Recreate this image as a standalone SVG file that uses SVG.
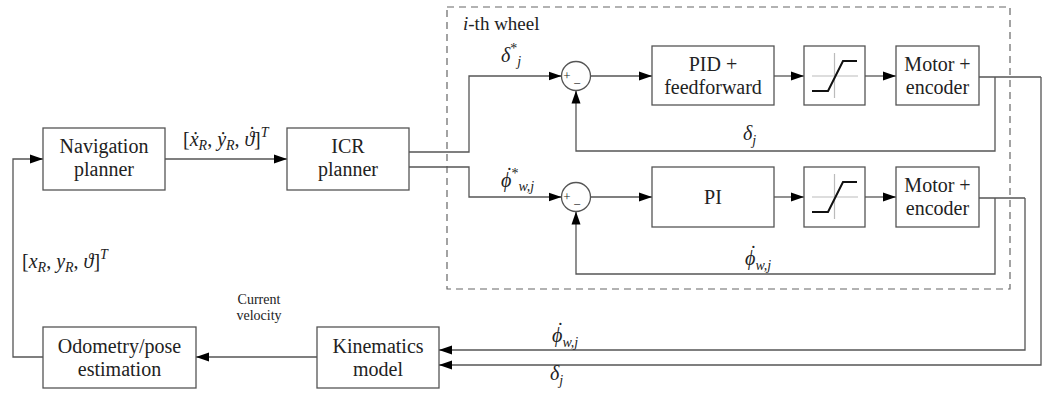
<svg xmlns="http://www.w3.org/2000/svg" width="1042" height="394" viewBox="0 0 1042 394">
  <style>
    .box { fill: #fff; stroke: #555; stroke-width: 1.3; }
    .wire { fill: none; stroke: #555; stroke-width: 1.3; }
    .arr { marker-end: url(#head); }
    .lbl { font-family: "Liberation Serif", "Times New Roman", serif; font-size: 20px; fill: #222; text-anchor: middle; }
    .math { font-family: "Liberation Serif", "Times New Roman", serif; font-size: 20px; fill: #222; font-style: italic; }
    .sub { font-size: 14px; }
    .up { font-style: normal; }
    .small { font-family: "Liberation Serif", "Times New Roman", serif; font-size: 14px; fill: #222; text-anchor: middle; }
    .sign { font-family: "Liberation Serif", serif; font-size: 13px; fill: #222; text-anchor: middle; }
    .grid { stroke: #bbb; stroke-width: 1.2; fill: none; }
    .sat { stroke: #111; stroke-width: 2; fill: none; }
    .frame { fill: none; stroke: #666; stroke-width: 1.2; stroke-dasharray: 7 5; }
  </style>
  <defs>
    <marker id="head" markerUnits="userSpaceOnUse" markerWidth="14" markerHeight="10" refX="13" refY="5" orient="auto">
      <path d="M0,0.5 L13,5 L0,9.5 Z" fill="#000"/>
    </marker>
  </defs>

  <!-- wheel subsystem frame -->
  <g id="wheel-frame">
    <rect class="frame" x="447" y="7" width="563" height="282"/>
    <text class="math" x="463" y="30" style="font-size:19px">i<tspan class="up">-th wheel</tspan></text>
  </g>

  <!-- connectors -->
  <g id="connectors">
    <path class="wire arr" d="M43,357 H13 V159 H43"/>
    <path class="wire arr" d="M165,159 H287"/>
    <path class="wire arr" d="M409,152 H469 V76 H561.5"/>
    <path class="wire arr" d="M409,167 H469 V197 H561.5"/>
    <path class="wire arr" d="M590.5,76 H652"/>
    <path class="wire arr" d="M774,76 H804"/>
    <path class="wire arr" d="M865,76 H896"/>
    <path class="wire arr" d="M590.5,197 H652"/>
    <path class="wire arr" d="M774,197 H804"/>
    <path class="wire arr" d="M865,197 H896"/>
    <path class="wire arr" d="M995,77 V151 H576 V90.5"/>
    <path class="wire arr" d="M995,198 V274 H576 V211.5"/>
    <path class="wire" d="M979,77 H1041"/>
    <path class="wire arr" d="M1041,77 V365 H439"/>
    <path class="wire" d="M979,198 H1025"/>
    <path class="wire arr" d="M1025,198 V350 H439"/>
    <path class="wire arr" d="M317,357 H196"/>
  </g>

  <!-- signal labels; time derivatives carry a raised dot (U+02D9) -->
  <g id="labels">
    <text class="math" x="183" y="146"><tspan class="up">[</tspan>ẋ<tspan class="sub" dy="4">R</tspan><tspan class="up" dy="-4">, </tspan>ẏ<tspan class="sub" dy="4">R</tspan><tspan class="up" dy="-4">, </tspan>ϑ<tspan dx="-7" dy="-5">˙</tspan><tspan class="up" dy="5">]</tspan><tspan class="sub" dy="-9">T</tspan></text>
    <text class="math" x="22" y="268"><tspan class="up">[</tspan>x<tspan class="sub" dy="4">R</tspan><tspan class="up" dy="-4">, </tspan>y<tspan class="sub" dy="4">R</tspan><tspan class="up" dy="-4">, </tspan>ϑ<tspan class="up">]</tspan><tspan class="sub" dy="-9">T</tspan></text>
    <text class="math" x="501" y="62">δ<tspan class="sub up" dy="-9">*</tspan><tspan class="sub" dy="13">j</tspan></text>
    <text class="math" x="501" y="187">ϕ<tspan dx="-6.5" dy="-5">˙</tspan><tspan class="sub up" dy="-4">*</tspan><tspan class="sub" dy="13">w,j</tspan></text>
    <text class="math" x="743" y="140">δ<tspan class="sub" dy="5">j</tspan></text>
    <text class="math" x="745" y="265">ϕ<tspan dx="-6.5" dy="-5">˙</tspan><tspan class="sub" dy="10">w,j</tspan></text>
    <text class="math" x="552" y="342">ϕ<tspan dx="-6.5" dy="-5">˙</tspan><tspan class="sub" dy="10">w,j</tspan></text>
    <text class="math" x="550" y="380">δ<tspan class="sub" dy="5">j</tspan></text>
    <text class="small" x="259" y="304">Current</text>
    <text class="small" x="259" y="320">velocity</text>
  </g>

  <g id="navigation-planner">
    <rect class="box" x="43" y="128" width="122" height="62"/>
    <text class="lbl" x="104" y="153">Navigation</text>
    <text class="lbl" x="104" y="176">planner</text>
  </g>

  <g id="icr-planner">
    <rect class="box" x="287" y="128" width="122" height="62"/>
    <text class="lbl" x="348" y="153">ICR</text>
    <text class="lbl" x="348" y="176">planner</text>
  </g>

  <g id="sum-steer">
    <circle class="box" cx="576" cy="76" r="14.5"/>
    <text class="sign" x="567" y="80">+</text>
    <text class="sign" x="577" y="88">−</text>
  </g>

  <g id="pid-feedforward">
    <rect class="box" x="652" y="46" width="122" height="59"/>
    <text class="lbl" x="713" y="71">PID +</text>
    <text class="lbl" x="713" y="94">feedforward</text>
  </g>

  <g id="saturation-steer">
    <rect class="box" x="804" y="46" width="61" height="59"/>
    <path class="grid" d="M834.5,53 V98 M812,76 H858"/>
    <path class="sat" d="M812,91 H828 L843,61 H857"/>
  </g>

  <g id="motor-steer">
    <rect class="box" x="896" y="46" width="83" height="59"/>
    <text class="lbl" x="937.5" y="71">Motor +</text>
    <text class="lbl" x="937.5" y="94">encoder</text>
  </g>

  <g id="sum-drive">
    <circle class="box" cx="576" cy="197" r="14.5"/>
    <text class="sign" x="567" y="201">+</text>
    <text class="sign" x="577" y="209">−</text>
  </g>

  <g id="pi">
    <rect class="box" x="652" y="167" width="122" height="60"/>
    <text class="lbl" x="713" y="204">PI</text>
  </g>

  <g id="saturation-drive">
    <rect class="box" x="804" y="167" width="61" height="60"/>
    <path class="grid" d="M834.5,174 V219 M812,197 H858"/>
    <path class="sat" d="M812,212 H828 L843,182 H857"/>
  </g>

  <g id="motor-drive">
    <rect class="box" x="896" y="167" width="83" height="60"/>
    <text class="lbl" x="937.5" y="192">Motor +</text>
    <text class="lbl" x="937.5" y="215">encoder</text>
  </g>

  <g id="odometry">
    <rect class="box" x="43" y="327" width="153" height="61"/>
    <text class="lbl" x="119.5" y="353">Odometry/pose</text>
    <text class="lbl" x="119.5" y="376">estimation</text>
  </g>

  <g id="kinematics">
    <rect class="box" x="317" y="327" width="122" height="61"/>
    <text class="lbl" x="378" y="353">Kinematics</text>
    <text class="lbl" x="378" y="376">model</text>
  </g>
</svg>
